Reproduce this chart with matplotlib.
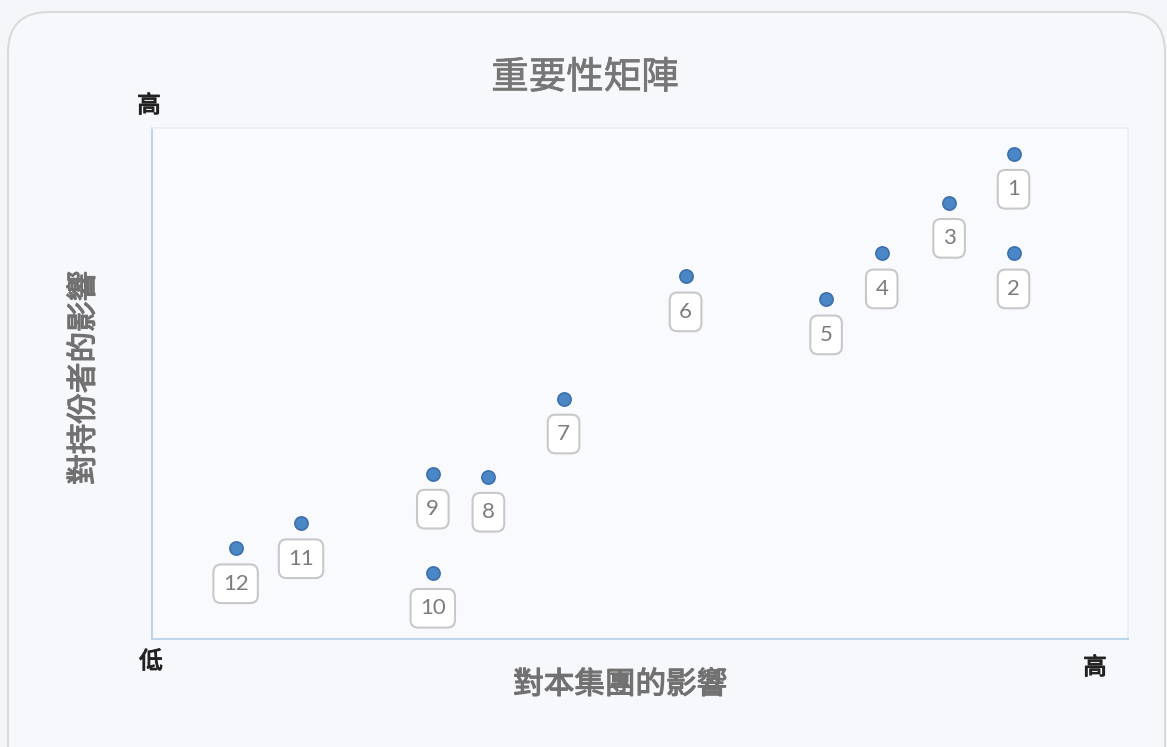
import matplotlib
matplotlib.use("Agg")
import matplotlib.pyplot as plt
from matplotlib.patches import FancyBboxPatch
import matplotlib.patheffects as pe

plt.rcParams['font.family'] = ['Noto Sans CJK TC', 'DejaVu Sans']

# importance matrix items (scale 0-10)
labels = ["1", "2", "3", "4", "5", "6", "7", "8", "9", "10", "11", "12"]
impact_group = [8.83, 8.83, 8.17, 7.48, 6.91, 5.47, 4.22, 3.45, 2.88, 2.88, 1.53, 0.86]
impact_stakeholders = [9.50, 7.55, 8.54, 7.55, 6.65, 7.10, 4.71, 3.18, 3.24, 1.30, 2.27, 1.78]

title = "重要性矩陣"
xlabel = "對本集團的影響"
ylabel = "對持份者的影響"
low_text, high_text = "低", "高"

W, H = 1167, 747
fig = plt.figure(figsize=(W / 100, H / 100), dpi=100)
fig.patch.set_facecolor("#f4f6fa")

# card background with rounded corners
card = FancyBboxPatch((8 / W, (H - 800) / H), 1157 / W, 788 / H,
                      boxstyle="round,pad=0,rounding_size=0.035",
                      transform=fig.transFigure, facecolor="#f7f8fc",
                      edgecolor="#dadada", linewidth=1.5, mutation_aspect=W / H,
                      zorder=-10)
fig.patches.append(card)

ax = fig.add_axes([151.7 / W, 1 - 639.3 / H, 976 / W, 511 / H])
ax.set_zorder(1)
ax.set_facecolor("#f9fafd")
ax.set_xlim(0, 10)
ax.set_ylim(0, 10)
ax.set_xticks([])
ax.set_yticks([])
for side in ["left", "bottom"]:
    ax.spines[side].set_color("#bdd6ea")
    ax.spines[side].set_linewidth(1.5)
for side in ["top", "right"]:
    ax.spines[side].set_color("#e8eff7")
    ax.spines[side].set_linewidth(1.2)

ax.scatter(impact_group, impact_stakeholders, s=90, color="#4b87c6",
           edgecolor="#3b6fae", linewidth=1.2, zorder=3)

for lab, x, y in zip(labels, impact_group, impact_stakeholders):
    ax.annotate(lab, (x, y), xytext=(0, -25.5), textcoords="offset points",
                ha="center", va="center", fontsize=16, color="#7c7c7c",
                family=["Lato", "DejaVu Sans"],
                bbox=dict(boxstyle="round,pad=0.42,rounding_size=0.35",
                          facecolor="white", edgecolor="#c8c8c8", linewidth=1.5),
                zorder=4)

# regular CJK face plus a thin stroke to get a medium weight
def medium(color, w):
    return [pe.withStroke(linewidth=w, foreground=color)]

fig.text(585 / W, 1 - 78 / H, title, ha="center", va="center",
         fontsize=27, color="#767676", path_effects=medium("#767676", 0.5))
fig.text(620 / W, 1 - 685 / H, xlabel, ha="center", va="center",
         fontsize=22, color="#717171", path_effects=medium("#717171", 0.9))
fig.text(84 / W, 1 - 378 / H, ylabel, ha="center", va="center",
         fontsize=22, color="#717171", rotation=90,
         path_effects=medium("#717171", 0.9))

for tx, ty, s in [(149, 106, high_text), (151, 662, low_text), (1095, 668, high_text)]:
    fig.text(tx / W, 1 - ty / H, s, ha="center", va="center",
             fontsize=17, color="#222222", path_effects=medium("#222222", 0.8))

fig.savefig("out.png", dpi=100, facecolor=fig.get_facecolor())
